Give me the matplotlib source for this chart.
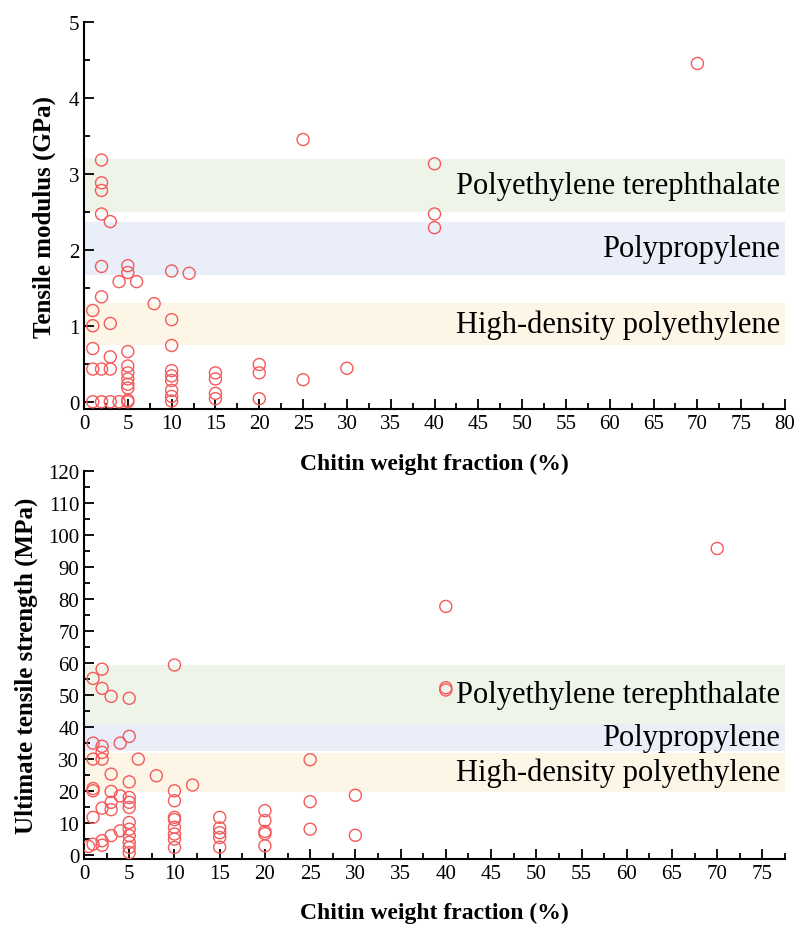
import matplotlib
matplotlib.use("Agg")
import matplotlib.pyplot as plt
from matplotlib.ticker import MultipleLocator

plt.rcParams['font.family'] = ['Liberation Serif', 'DejaVu Serif']

# chitin weight fraction (%) vs tensile modulus (GPa)
mod_x = [1, 1, 1, 1, 1,
         2, 2, 2, 2, 2, 2, 2, 2,
         3, 3, 3, 3, 3,
         4, 4,
         5, 5, 5, 5, 5, 5, 5, 5, 5, 5,
         6, 8,
         10, 10, 10, 10, 10, 10, 10, 10, 10,
         12,
         15, 15, 15, 15,
         20, 20, 20,
         25, 25, 30,
         40, 40, 40, 70]
mod_y = [1.2, 1.0, 0.7, 0.43, 0.0,
         3.18, 2.88, 2.78, 2.47, 1.78, 1.38, 0.43, 0.0,
         2.37, 1.03, 0.59, 0.43, 0.0,
         1.58, 0.0,
         1.79, 1.70, 0.66, 0.47, 0.38, 0.30, 0.23, 0.18, 0.02, 0.0,
         1.58, 1.29,
         1.72, 1.08, 0.74, 0.41, 0.34, 0.28, 0.15, 0.07, 0.01,
         1.69,
         0.38, 0.30, 0.11, 0.04,
         0.49, 0.38, 0.04,
         3.45, 0.29, 0.44,
         3.13, 2.47, 2.29, 4.45]

# chitin weight fraction (%) vs ultimate tensile strength (MPa)
uts_x = [0.5,
         1, 1, 1, 1, 1, 1, 1,
         2, 2, 2, 2, 2, 2, 2, 2,
         3, 3, 3, 3, 3, 3,
         4, 4, 4,
         5, 5, 5, 5, 5, 5, 5, 5, 5, 5, 5, 5,
         6, 8,
         10, 10, 10, 10, 10, 10, 10, 10, 10,
         12,
         15, 15, 15, 15, 15,
         20, 20, 20, 20, 20,
         25, 25, 25,
         30, 30,
         40, 40, 40, 70]
uts_y = [2.7,
         55.2, 35, 30, 20.8, 20.1, 11.8, 3.4,
         58.1, 52.1, 34.0, 32.1, 30, 14.7, 4.5, 3.1,
         49.6, 25.3, 19.9, 16.5, 14.2, 6.1,
         35, 18.5, 7.6,
         49.0, 37.1, 22.9, 18.0, 16.5, 14.9, 10.2, 8.1, 6.1, 4.0, 2.4, 0.8,
         30, 24.8,
         59.4, 20.1, 17.0, 11.8, 11.1, 8.7, 6.6, 5.0, 2.4,
         21.9,
         11.8, 8.5, 7.0, 5.5, 2.5,
         13.9, 10.8, 7.4, 6.7, 2.9,
         29.8, 16.7, 8.1,
         18.7, 6.2,
         77.7, 52.3, 51.6, 95.8]

# reference polymers and their ranges
polymers = ['Polyethylene terephthalate', 'Polypropylene', 'High-density polyethylene']
band_colors = ['#eef4e8', '#e9eef8', '#fdf5e5']
mod_bands = [(2.49, 3.19), (1.67, 2.36), (0.75, 1.30)]
uts_bands = [(41.0, 59.5), (32.5, 41.0), (19.7, 31.8)]

fig = plt.figure(figsize=(7.94, 9.29), dpi=100)
ax1 = fig.add_axes([0.1058, 0.5583, 0.8829, 0.4173])
ax2 = fig.add_axes([0.1058, 0.0743, 0.8829, 0.4176])
# keep the upper x label visible where it runs into the lower panel
ax2.patch.set_visible(False)


def style_axis(ax, xmax, ylim, ymaj, ymin):
    ax.set_xlim(0, xmax)
    ax.set_ylim(*ylim)
    ax.xaxis.set_major_locator(MultipleLocator(5))
    ax.xaxis.set_minor_locator(MultipleLocator(2.5))
    ax.yaxis.set_major_locator(MultipleLocator(ymaj))
    ax.yaxis.set_minor_locator(MultipleLocator(ymin))
    for s in ['top', 'right']:
        ax.spines[s].set_visible(False)
    for s in ['left', 'bottom']:
        ax.spines[s].set_linewidth(1.5)
    ax.tick_params(which='both', direction='in', width=1.3, labelsize=15)
    ax.tick_params(which='major', length=7)
    ax.tick_params(which='minor', length=4)
    ax.set_xlabel('Chitin weight fraction (%)', fontsize=17, fontweight='bold', labelpad=14)


def draw_bands(ax, bands, xmax):
    for name, (lo, hi), c in zip(polymers, bands, band_colors):
        ax.axhspan(lo, hi, color=c, zorder=0, lw=0)
        ax.text(xmax * 0.993, (lo + hi) / 2, name, ha='right', va='center',
                fontsize=22, zorder=3)


mk = dict(marker='o', s=75, facecolors='none', edgecolors='#f45a5a',
          linewidths=1.0, zorder=4)

draw_bands(ax1, mod_bands, 80)
ax1.scatter(mod_x, mod_y, **mk)
style_axis(ax1, 80, (-0.1, 5), 1, 0.5)
ax1.set_ylabel('Tensile modulus (GPa)', fontsize=18, fontweight='bold', labelpad=9)

draw_bands(ax2, uts_bands, 77.5)
ax2.scatter(uts_x, uts_y, **mk)
style_axis(ax2, 77.5, (-1.2, 120), 10, 5)
ax2.set_ylabel('Ultimate tensile strength (MPa)', fontsize=18, fontweight='bold', labelpad=7)

fig.savefig('out.png', dpi=100)
